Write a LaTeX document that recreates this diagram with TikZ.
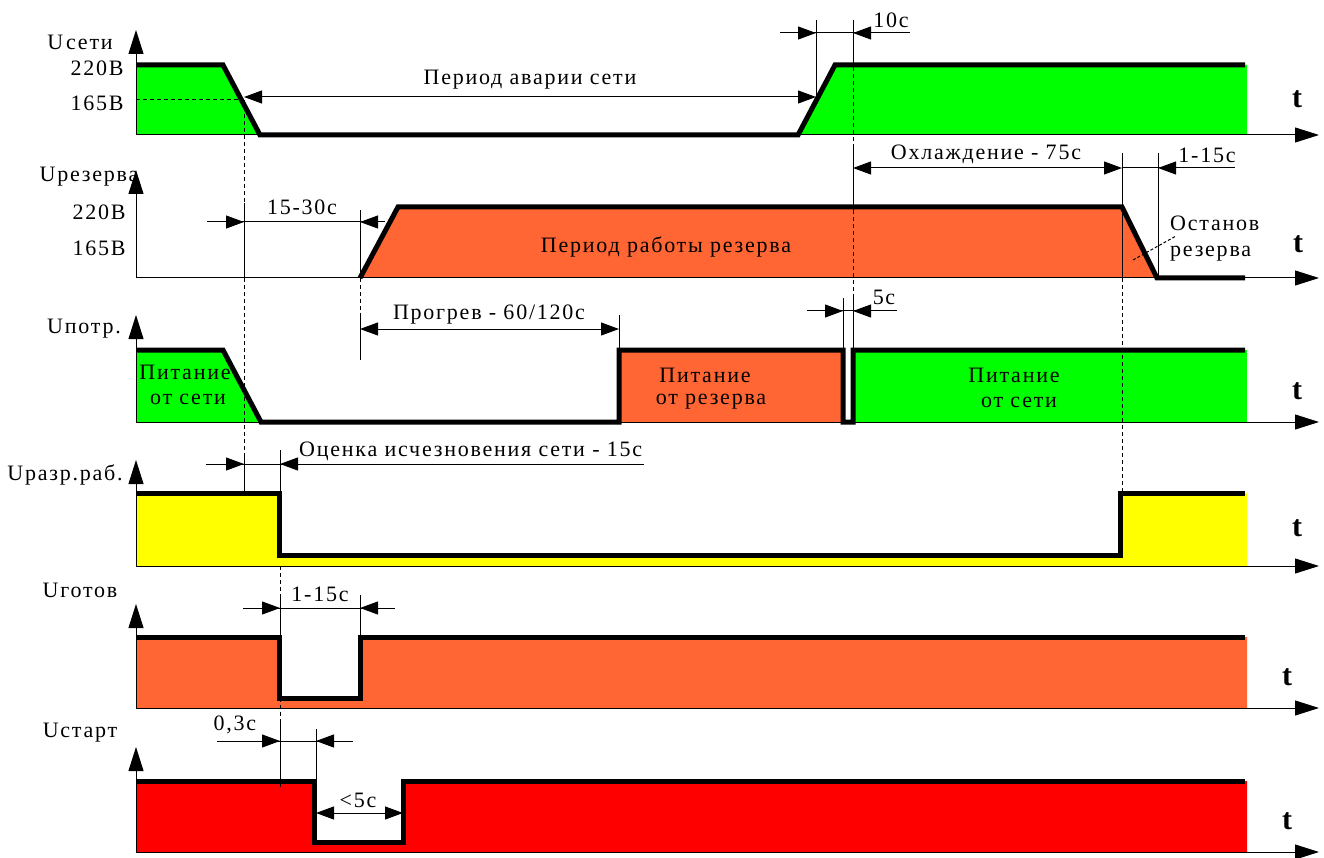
\documentclass[tikz,border=0pt]{standalone}
\usepackage{fontspec}
\setmainfont{Liberation Serif}[LetterSpace=8]
\usetikzlibrary{arrows.meta}
\definecolor{cgreen}{RGB}{0,255,0}
\definecolor{corange}{RGB}{255,102,51}
\definecolor{cyellow}{RGB}{255,255,0}
\definecolor{cred}{RGB}{255,0,0}
\tikzset{
  wave/.style={line width=5pt, line join=miter},
  thinl/.style={line width=1pt},
  axis/.style={line width=1pt, -{Triangle[length=24pt,width=15pt]}},
  dotl/.style={line width=1pt, dash pattern=on 4pt off 3pt},
  dtip/.style={line width=1pt, -{Triangle[length=18pt,width=13pt]}},
  dboth/.style={line width=1pt, {Triangle[length=18pt,width=13pt]}-{Triangle[length=18pt,width=13pt]}},
  lbl/.style={font=\fontsize{22}{26}\selectfont, inner sep=0pt},
  tl/.style={font=\fontsize{30}{32}\selectfont\bfseries, inner sep=0pt},
}
\begin{document}
\begin{tikzpicture}[x=1pt,y=-1pt]
\useasboundingbox (0,0) rectangle (1324,858);
% ---------- fills
\fill[cgreen] (136,135) -- (136,65) -- (223,65) -- (260,135) -- cycle;
\fill[cgreen] (798,135) -- (835,65) -- (1247,65) -- (1247,135) -- cycle;
\fill[corange] (360,278) -- (398,207) -- (1122,207) -- (1157,278) -- cycle;
\fill[cgreen] (136,422) -- (136,350) -- (223,350) -- (261,422) -- cycle;
\fill[corange] (619,350) rectangle (843,422);
\fill[cgreen] (853,350) rectangle (1247,422);
\fill[cyellow] (136,493) -- (279,493) -- (279,555) -- (1120,555) -- (1120,493) -- (1247,493) -- (1247,566) -- (136,566) -- cycle;
\fill[corange] (136,637) -- (279,637) -- (279,698) -- (360,698) -- (360,637) -- (1247,637) -- (1247,708) -- (136,708) -- cycle;
\fill[cred] (136,781) -- (314,781) -- (314,842) -- (403,842) -- (403,781) -- (1247,781) -- (1247,852) -- (136,852) -- cycle;
% ---------- dotted guide lines
\draw[dotl] (136,100) -- (244,100);
\draw[dotl] (244,100) -- (244,203);
\draw[dotl] (244,278) -- (244,453);
\draw[dotl] (853,67) -- (853,148);
\draw[dotl] (853,210) -- (853,298);
\draw[dotl] (360,278) -- (360,315);
\draw[dotl] (1122,278) -- (1122,493);
\draw[dotl] (280,566) -- (280,597);
\draw[dotl] (280,698) -- (280,720);
% ---------- axes
\foreach \b/\t in {135/30, 278/170, 422/315, 566/460, 708/604, 852/747}{
  \draw[axis] (136,\b) -- (136,\t);
  \draw[axis] (136,\b) -- (1319,\b);
}
% ---------- waveforms
\draw[wave] (136,65) -- (223,65) -- (260,135) -- (798,135) -- (835,65) -- (1245,65);
\draw[wave] (360,278) -- (398,207) -- (1122,207) -- (1157,278) -- (1245,278);
\draw[wave] (136,350) -- (223,350) -- (261,422) -- (619,422) -- (619,350) -- (843,350) -- (843,422) -- (853,422) -- (853,350) -- (1245,350);
\draw[wave] (136,493) -- (279,493) -- (279,555) -- (1120,555) -- (1120,493) -- (1245,493);
\draw[wave] (136,637) -- (279,637) -- (279,698) -- (360,698) -- (360,637) -- (1245,637);
\draw[wave] (136,781) -- (314,781) -- (314,842) -- (403,842) -- (403,781) -- (1245,781);
% ---------- dimension: Период аварии сети / 10с
\draw[dboth] (244,97) -- (816,97);
\draw[thinl] (816,20) -- (816,97);
\draw[thinl] (853,20) -- (853,65);
\draw[thinl] (780,33) -- (910,33);
\draw[dtip] (790,33) -- (816,33);
\draw[dtip] (880,33) -- (853,33);
% ---------- row 2 dims
\draw[thinl] (853,148) -- (853,210);
\draw[dboth] (853,168) -- (1122,168);
\draw[thinl] (1122,153) -- (1122,278);
\draw[thinl] (1158,153) -- (1158,278);
\draw[thinl] (1122,168) -- (1235,168);
\draw[dtip] (1185,168) -- (1158,168);
\draw[thinl, dash pattern=on 3pt off 2pt] (1133,260) -- (1176,236);
\draw[thinl] (244,203) -- (244,278);
\draw[thinl] (360,210) -- (360,278);
\draw[thinl] (207,222) -- (383,222);
\draw[dtip] (215,222) -- (244,222);
\draw[dtip] (385,222) -- (360,222);
% ---------- row 3 dims
\draw[thinl] (360,315) -- (360,360);
\draw[thinl] (619,315) -- (619,350);
\draw[dboth] (360,329) -- (619,329);
\draw[thinl] (843,298) -- (843,350);
\draw[thinl] (853,298) -- (853,350);
\draw[thinl] (807,311) -- (897,311);
\draw[dtip] (815,311) -- (843,311);
\draw[dtip] (882,311) -- (853,311);
% ---------- row 4 dims
\draw[thinl] (244,453) -- (244,493);
\draw[thinl] (280,450) -- (280,555);
\draw[thinl] (206,464) -- (644,464);
\draw[dtip] (215,464) -- (244,464);
\draw[dtip] (308,464) -- (280,464);
% ---------- row 5 dims
\draw[thinl] (280,597) -- (280,698);
\draw[thinl] (360,595) -- (360,637);
\draw[thinl] (243,608) -- (395,608);
\draw[dtip] (252,608) -- (280,608);
\draw[dtip] (388,608) -- (360,608);
% ---------- row 6 dims
\draw[thinl] (280,720) -- (280,787);
\draw[thinl] (316,729) -- (316,781);
\draw[thinl] (217,741) -- (353,741);
\draw[dtip] (252,741) -- (280,741);
\draw[dtip] (344,741) -- (316,741);
\draw[dboth] (316,813) -- (403,813);
% ---------- axis labels
\node[lbl] (l1) at (80,42) {U\hspace{3pt}сети};
\node[lbl] (v1a) at (97,68) {220В};
\node[lbl] (v1b) at (97,103) {165В};
\node[lbl] (l2) at (89,177) {Uрезерва};
\node[lbl] (v2a) at (99,212) {220В};
\node[lbl] (v2b) at (99,248) {165В};
\node[lbl] (l3) at (84,329) {Uпотр.};
\node[lbl] (l4) at (65,475) {Uразр.раб.};
\node[lbl] (l5) at (80,590) {Uготов};
\node[lbl] (l6) at (80,733) {Uстарт};
% ---------- t labels
\node[tl] (t1) at (1297,99) {t};
\node[tl] (t2) at (1298,244) {t};
\node[tl] (t3) at (1297,391) {t};
\node[tl] (t4) at (1297,528) {t};
\node[tl] (t5) at (1287,677) {t};
\node[tl] (t6) at (1287,821) {t};
% ---------- annotation texts
\node[lbl] (a1) at (530,80) {Период аварии сети};
\node[lbl] (a2) at (891,20) {10с};
\node[lbl] (a3) at (666,247) {Период работы резерва};
\node[lbl] (a4) at (986,154) {Охлаждение - 75с};
\node[lbl] (a5) at (1207,155) {1-15с};
\node[lbl, anchor=west] (a6) at (1170,223) {Останов};
\node[lbl, anchor=west] (a7) at (1170,254) {резерва};
\node[lbl] (a8) at (302,207) {15-30с};
\node[lbl] (a9) at (489,315) {Прогрев - 60/120с};
\node[lbl] (a10) at (884,297) {5с};
\node[lbl] (p1) at (185,372) {Питание};
\node[lbl] (p2) at (188,399) {от сети};
\node[lbl] (p3) at (705,375) {Питание};
\node[lbl] (p4) at (711,402) {от резерва};
\node[lbl] (p5) at (1014,375) {Питание};
\node[lbl] (p6) at (1019,402) {от сети};
\node[lbl, anchor=west] (a11) at (299,451) {Оценка исчезновения сети - 15с};
\node[lbl] (a12) at (320,594) {1-15с};
\node[lbl] (a13) at (235,725) {0,3с};
\node[lbl] (a14) at (358,800) {<5с};
\end{tikzpicture}
\end{document}
